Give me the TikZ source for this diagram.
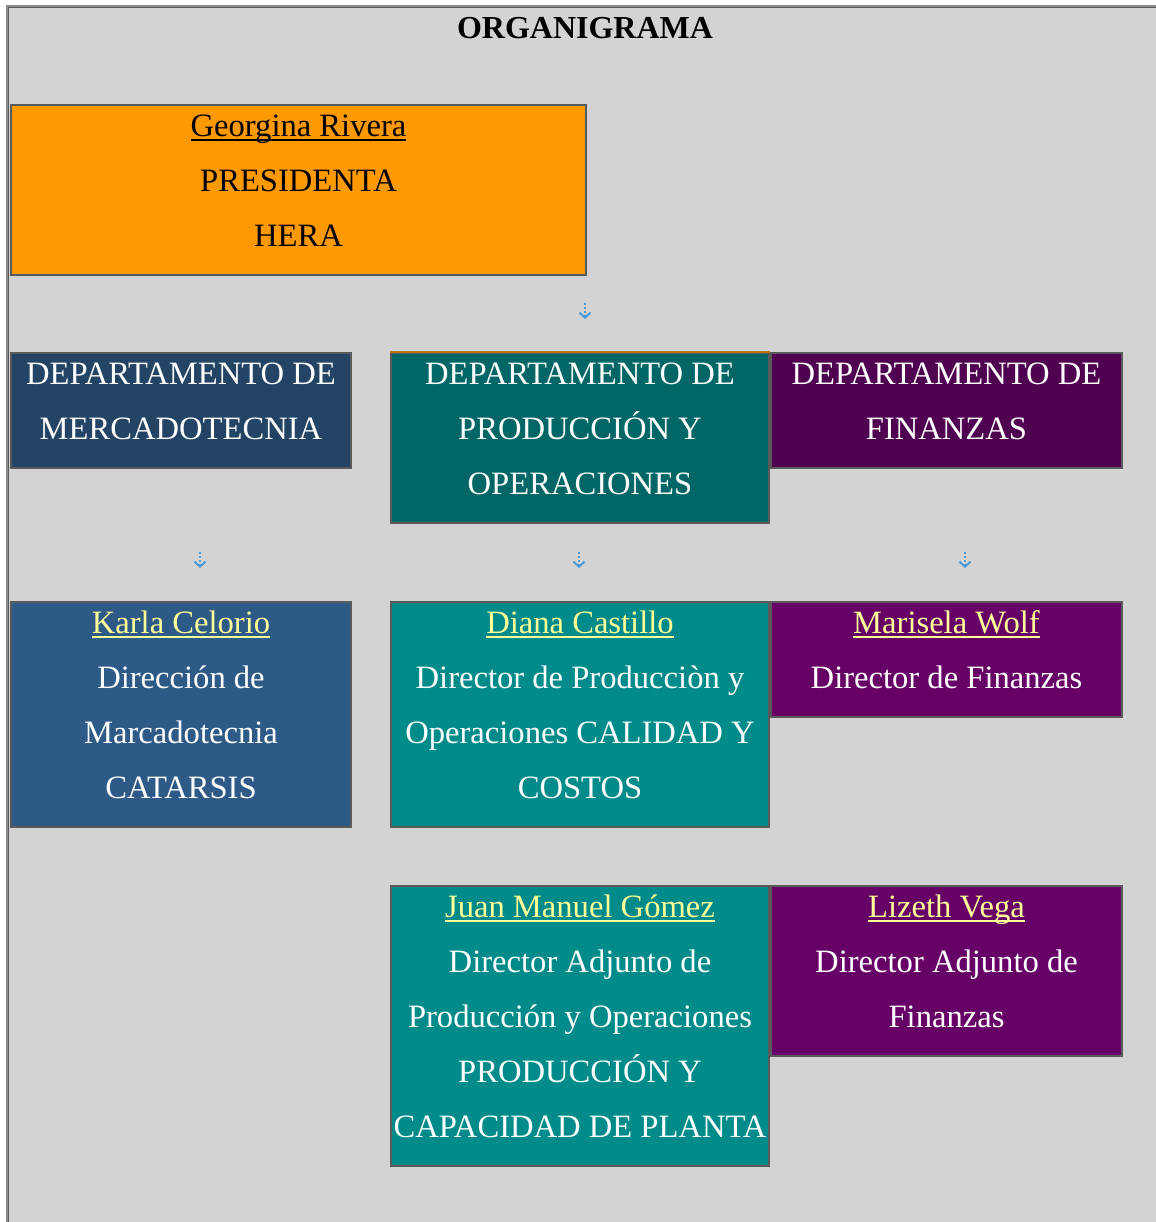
\documentclass[tikz,border=0pt]{standalone}
\usepackage{fontspec}
\setmainfont{Liberation Serif}
\usetikzlibrary{arrows.meta}

\definecolor{fondo}{HTML}{D3D3D3}
\definecolor{marco}{HTML}{8C8C8C}
\definecolor{borde}{HTML}{5A5A5A}
\definecolor{naranja}{HTML}{FF9900}
\definecolor{azuldep}{HTML}{244466}
\definecolor{azul}{HTML}{2E5A88}
\definecolor{verdedep}{HTML}{006666}
\definecolor{verde}{HTML}{008B8B}
\definecolor{moradodep}{HTML}{500050}
\definecolor{morado}{HTML}{660066}
\definecolor{amarillo}{HTML}{FFFF99}
\definecolor{icono}{HTML}{4A9AD8}

% one line of a box: fixed height so every row sits on a 55px pitch
\newcommand{\renglon}{\rule[-12.9pt]{0pt}{27.5pt}}
\newcommand{\subr}[1]{\setbox0\hbox{#1}\rlap{\rule[-2pt]{\wd0}{0.9pt}}\box0}
\newcommand{\quien}[1]{\textcolor{amarillo}{\subr{#1}}}

\tikzset{
  caja/.style={draw=borde, line width=1pt, anchor=north west, inner sep=0pt,
    align=center, text=white, font=\fontsize{16.3pt}{27.5pt}\selectfont},
  bajada/.style={icono, densely dotted, line width=1pt,
    -{Straight Barb[length=2.5pt,width=5.5pt,line width=1pt]}}
}

\begin{document}
\begin{tikzpicture}[x=0.5pt,y=-0.5pt]
\useasboundingbox (0,0) rectangle (1156,1222);
\fill[fondo] (7,5) rectangle (1156,1222);
\draw[marco, line width=1pt] (7,1222) -- (7,6) -- (1156,6);
\draw[borde, line width=0.4pt] (8.8,1222) -- (8.8,7.8) -- (1156,7.8);

\node[font=\fontsize{16pt}{19pt}\selectfont\bfseries] (titulo) at (585,28) {ORGANIGRAMA};

\node[caja, fill=naranja, text=black, minimum width=287.5pt, minimum height=85pt] (pres) at (10,104)
  {\renglon\subr{Georgina Rivera}\\ \renglon PRESIDENTA\\ \renglon HERA};

\node[caja, fill=azuldep, minimum width=170pt, minimum height=57.5pt] (dmkt) at (10,352)
  {\renglon DEPARTAMENTO DE\\ \renglon MERCADOTECNIA};
\node[caja, fill=verdedep, minimum width=189pt, minimum height=85pt] (dprod) at (390,352)
  {\renglon DEPARTAMENTO DE\\ \renglon PRODUCCIÓN Y\\ \renglon OPERACIONES};
\draw[naranja!75!black, line width=0.8pt] (dprod.north west) -- (dprod.north east);
\node[caja, fill=moradodep, minimum width=175.5pt, minimum height=57.5pt] (dfin) at (770,352)
  {\renglon DEPARTAMENTO DE\\ \renglon FINANZAS};

\node[caja, fill=azul, minimum width=170pt, minimum height=112.5pt] (karla) at (10,601)
  {\renglon\quien{Karla Celorio}\\ \renglon Dirección de\\ \renglon Marcadotecnia\\ \renglon CATARSIS};
\node[caja, fill=verde, minimum width=189pt, minimum height=112.5pt] (diana) at (390,601)
  {\renglon\quien{Diana Castillo}\\ \renglon Director de Producciòn y\\ \renglon Operaciones CALIDAD Y\\ \renglon COSTOS};
\node[caja, fill=morado, minimum width=175.5pt, minimum height=57.5pt] (marisela) at (770,601)
  {\renglon\quien{Marisela Wolf}\\ \renglon Director de Finanzas};

\node[caja, fill=verde, minimum width=189pt, minimum height=140pt] (juan) at (390,885)
  {\renglon\quien{Juan Manuel Gómez}\\ \renglon Director Adjunto de\\ \renglon Producción y Operaciones\\ \renglon PRODUCCIÓN Y\\ \renglon CAPACIDAD DE PLANTA};
\node[caja, fill=morado, minimum width=175.5pt, minimum height=85pt] (lizeth) at (770,885)
  {\renglon\quien{Lizeth Vega}\\ \renglon Director Adjunto de\\ \renglon Finanzas};

% little down marks
\draw[bajada] (585,303) -- (585,319);
\foreach \x in {200,579,965}
{
  \draw[bajada] (\x,552) -- (\x,568);
}
\end{tikzpicture}
\end{document}
